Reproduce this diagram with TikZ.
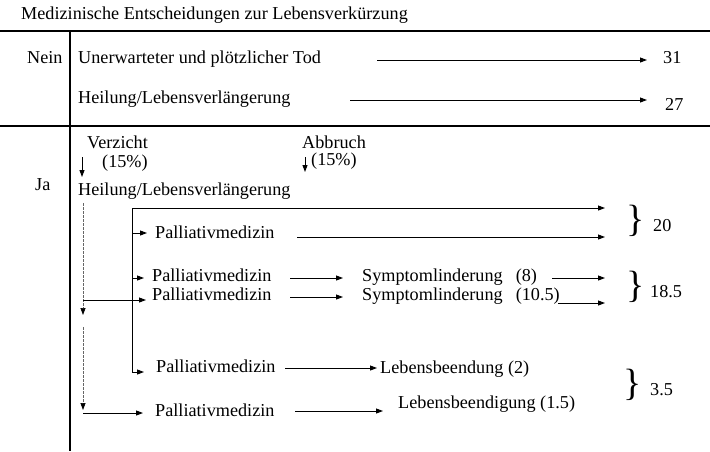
\documentclass[tikz,border=0pt]{standalone}
\usepackage{fontspec}
\setmainfont{Liberation Serif}
\usetikzlibrary{arrows.meta, positioning}

\tikzset{
  lbl/.style={inner sep=0pt, anchor=base west, font=\fontsize{18.2}{20}\selectfont},
  arr/.style={line width=0.9pt, -{Triangle[length=7pt,width=5pt]}},
  ln/.style={line width=0.9pt},
  rulebar/.style={line width=2.6pt},
  dashline/.style={line width=0.7pt, gray!80!black, dash pattern=on 2.5pt off 1.5pt, -{Triangle[length=7pt,width=5pt,black]}},
  brace/.style={inner sep=0pt, font=\fontsize{38}{38}\selectfont}
}

\begin{document}
\begin{tikzpicture}[x=1pt, y=-1pt]
\useasboundingbox (0,0) rectangle (710,451);

% table rules
\draw[rulebar] (0,31) -- (710,31);
\draw[rulebar] (0,126) -- (710,126);
\draw[rulebar] (70,31) -- (70,451);

% title and row heads
\node[lbl] (title) at (21,19) {Medizinische Entscheidungen zur Lebensverkürzung};
\node[lbl] (nein) at (27,63) {Nein};
\node[lbl] (ja) at (35,190) {Ja};

% Nein: two plain outcomes
\node[lbl] (tod) at (78,63) {Unerwarteter und plötzlicher Tod};
\node[lbl] (heilA) at (78,103) {Heilung/Lebensverlängerung};
\node[lbl] (v31) at (663,63) {31};
\node[lbl] (v27) at (665,110) {27};
\coordinate (todS) at (377,60);
\coordinate (todE) at (647,60);
\coordinate (heilS) at (350,100);
\coordinate (heilE) at (647,100);
\draw[arr] (todS) -- (todE);
\draw[arr] (heilS) -- (heilE);

% Ja: Verzicht / Abbruch
\node[lbl] (verz) at (87,148) {Verzicht};
\node[lbl] (verzP) at (102,167) {(15\%)};
\node[lbl] (abbr) at (302,148) {Abbruch};
\node[lbl] (abbrP) at (311,165) {(15\%)};
\node[lbl] (heilB) at (78,195) {Heilung/Lebensverlängerung};
\coordinate (verzS) at (82,157);
\coordinate (verzE) at (82,177);
\coordinate (abbrS) at (305,157);
\coordinate (abbrE) at (305,172);
\draw[arr] (verzS) -- (verzE);
\draw[arr] (abbrS) -- (abbrE);

% dashed trunk (Verzicht)
\coordinate (dA) at (83,203);
\coordinate (dB) at (83,315);
\coordinate (dC) at (83,327);
\coordinate (dD) at (83,410);
\draw[dashline] (dA) -- (dB);
\draw[dashline] (dC) -- (dD);

% solid trunk (Abbruch)
\coordinate (vTop) at (132,208);
\coordinate (vBot) at (132,372);
\coordinate (endX) at (605,0);
\draw[ln] (vBot) -- (vTop);
\draw[arr] (vTop) -- (vTop -| endX);

% Palliativmedizin column
\node[lbl] (palA) at (155,238) {Palliativmedizin};
\node[lbl] (palB) at (152,281) {Palliativmedizin};
\node[lbl] (palC) at (152,300) {Palliativmedizin};
\node[lbl] (palD) at (156,372) {Palliativmedizin};
\node[lbl] (palE) at (155,416) {Palliativmedizin};
\coordinate (brA) at (132,233);
\coordinate (brB) at (132,278);
\coordinate (brC) at (83,300);
\coordinate (brE) at (83,413);
\draw[arr, shorten >=8pt] (brA) -- (brA -| palA.west);
\draw[arr, shorten >=8pt] (brB) -- (brB -| palB.west);
\draw[arr, shorten >=6pt] (brC) -- (brC -| palC.west);
\draw[arr, shorten >=12pt] (vBot) -- (vBot -| palD.west);
\draw[arr, shorten >=12pt] (brE) -- (brE -| palE.west);

% second step
\node[lbl] (symA) at (362,281) {Symptomlinderung\hspace{13pt}(8)};
\node[lbl] (symB) at (362,300) {Symptomlinderung\hspace{13pt}(10.5)};
\node[lbl] (lebA) at (380,373) {Lebensbeendung (2)};
\node[lbl] (lebB) at (398,408) {Lebensbeendigung (1.5)};
\coordinate (pA) at (297,237);
\coordinate (pB) at (290,278);
\coordinate (pC) at (290,297);
\coordinate (pD) at (285,368);
\coordinate (pE) at (295,411);
\draw[arr] (pA) -- (pA -| endX);
\draw[arr, shorten >=19pt] (pB) -- (symA.west |- pB);
\draw[arr, shorten >=19pt] (pC) -- (symB.west |- pC);
\draw[arr, shorten >=3pt] (pD) -- (lebA.west |- pD);
\draw[arr, shorten >=15pt] (pE) -- (lebB.west |- pE);
\coordinate (qB) at (552,278);
\coordinate (qC) at (558,303);
\draw[arr] (qB) -- (qB -| endX);
\draw[arr] (qC) -- (qC -| endX);

% braces and sums
\node[brace] (brc20) at (636,221) {\}};
\node[brace] (brc185) at (636,287) {\}};
\node[brace] (brc35) at (633,385) {\}};
\node[lbl] (v20) at (653,231) {20};
\node[lbl] (v185) at (650,297) {18.5};
\node[lbl] (v35) at (650,395) {3.5};

\end{tikzpicture}
\end{document}
